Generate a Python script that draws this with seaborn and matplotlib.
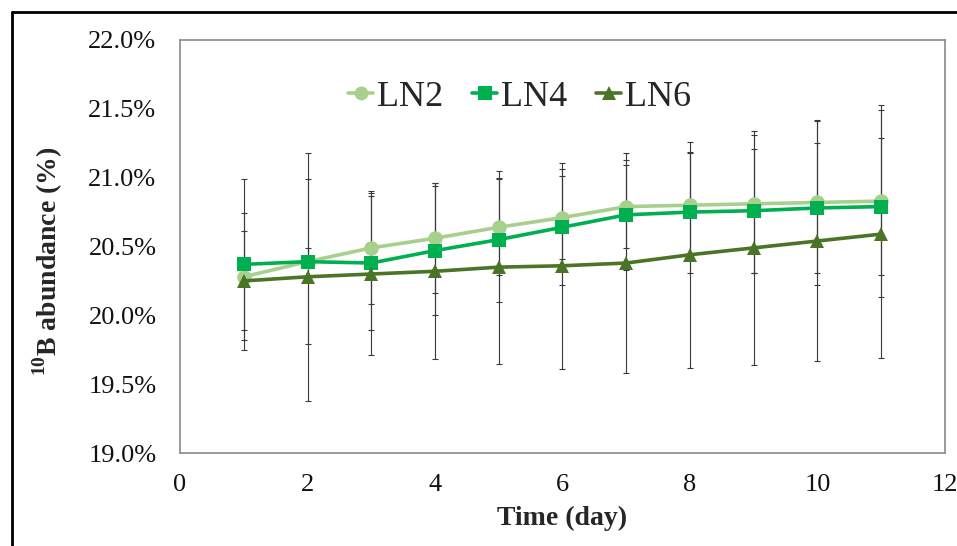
import matplotlib
matplotlib.use("Agg")
import matplotlib.pyplot as plt
import seaborn as sns
import pandas as pd
import numpy as np
from matplotlib.ticker import FuncFormatter
from matplotlib.lines import Line2D

days = [1, 2, 3, 4, 5, 6, 7, 8, 9, 10, 11]
ln2 = [20.28, 20.39, 20.49, 20.56, 20.64, 20.71, 20.79, 20.80, 20.81, 20.82, 20.83]
ln4 = [20.37, 20.39, 20.38, 20.47, 20.55, 20.64, 20.73, 20.75, 20.76, 20.78, 20.79]
ln6 = [20.25, 20.28, 20.30, 20.32, 20.35, 20.36, 20.38, 20.44, 20.49, 20.54, 20.59]
err2 = [0.46, 0.10, 0.41, 0.40, 0.35, 0.30, 0.30, 0.38, 0.50, 0.60, 0.70]
err4 = [0.62, 0.60, 0.49, 0.47, 0.45, 0.42, 0.40, 0.44, 0.45, 0.47, 0.50]
err6 = [0.36, 0.90, 0.59, 0.64, 0.70, 0.75, 0.80, 0.82, 0.85, 0.87, 0.90]
series_names = ["LN2", "LN4", "LN6"]
x_ticks = [0, 2, 4, 6, 8, 10, 12]
y_ticks = [19.0, 19.5, 20.0, 20.5, 21.0, 21.5, 22.0]

colors = {"LN2": "#a8d08d", "LN4": "#00b050", "LN6": "#4a7426"}
markers = {"LN2": "o", "LN4": "s", "LN6": "^"}

df = pd.DataFrame({
    "day": days * 3,
    "value": ln2 + ln4 + ln6,
    "err": err2 + err4 + err6,
    "series": sum([[n] * len(days) for n in series_names], []),
})

sns.set_style("white")
plt.rcParams["font.family"] = ["Liberation Serif", "DejaVu Serif"]
plt.rcParams["mathtext.fontset"] = "custom"
plt.rcParams["mathtext.rm"] = "Liberation Serif"
plt.rcParams["mathtext.bf"] = "Liberation Serif:bold"

fig = plt.figure(figsize=(9.57, 5.46), dpi=100)
fig.patch.set_facecolor("white")
ax = fig.add_axes([180 / 957, 93 / 546, 765 / 957, 413 / 546])

# error bars (behind lines)
for name in series_names:
    sub = df[df["series"] == name]
    ax.errorbar(sub["day"], sub["value"], yerr=sub["err"], fmt="none",
                ecolor="#3a3a3a", elinewidth=0.8, capsize=2.5, capthick=0.8, zorder=1)

sns.lineplot(data=df, x="day", y="value", hue="series", style="series",
             palette=colors, markers=markers, dashes=False, ax=ax,
             linewidth=2.6, markersize=10.5, markeredgewidth=0, legend=False, zorder=3)

ax.set_xlim(0, 12)
ax.set_ylim(19.0, 22.0)
ax.set_xticks(x_ticks)
ax.set_yticks(y_ticks)
ax.yaxis.set_major_formatter(FuncFormatter(lambda v, p: f"{v:.1f}%"))

for s in ax.spines.values():
    s.set_color("#8a8a8a")
    s.set_linewidth(1.2)

ax.tick_params(axis="both", direction="out", length=6, width=1.1, color="#8a8a8a",
               labelsize=19, labelcolor="#111111")
ax.tick_params(axis="y", pad=11)
ax.tick_params(axis="x", pad=9)

ax.set_xlabel("Time (day)", fontsize=20, fontweight="bold")
ax.set_ylabel(r"$^{\mathbf{10}}$B abundance (%)", fontsize=20, fontweight="bold")
ax.xaxis.set_label_coords(0.5, -0.128)
ax.yaxis.set_label_coords(-0.150, 0.465)

handles = [Line2D([0], [0], color=colors[n], marker=markers[n], lw=2.6,
                  markersize=10, markeredgewidth=0) for n in series_names]
ax.legend(handles, series_names, loc="center", bbox_to_anchor=(0.444, 0.862),
          ncol=3, frameon=False, fontsize=26, handlelength=0.7, handletextpad=0.1,
          columnspacing=0.8)

# outer frame
fig.add_artist(Line2D([12 / 957, 12 / 957], [0, 1 - 12 / 546], color="black", lw=2,
                      transform=fig.transFigure))
fig.add_artist(Line2D([12 / 957, 1], [1 - 12 / 546, 1 - 12 / 546], color="black", lw=2,
                      transform=fig.transFigure))

fig.savefig("out.png", dpi=100)
